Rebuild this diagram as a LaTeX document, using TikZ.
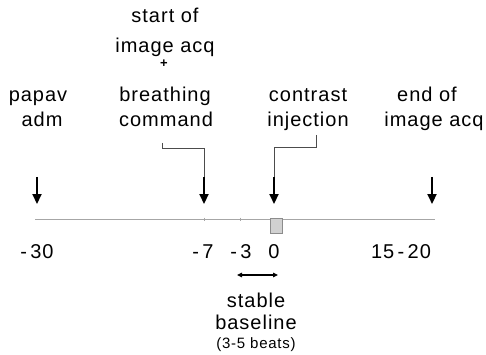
\documentclass[tikz,border=0pt]{standalone}
\usepackage{fontspec}
\setmainfont[LetterSpace=5]{Liberation Sans}
\usetikzlibrary{arrows.meta}
\begin{document}
\begin{tikzpicture}[x=1pt,y=-1pt,
  lbl/.style={anchor=base,inner sep=0pt,font=\fontsize{20}{24}\selectfont},
  small/.style={anchor=base,inner sep=0pt,font=\fontsize{15}{18}\selectfont},
  event/.style={line width=2.2pt,-{Triangle[length=10pt,width=9pt]}},
  leader/.style={draw=black!70,line width=0.5pt},
  axis/.style={draw=black!35,line width=0.7pt}]
\useasboundingbox (0,0) rectangle (486,355);

% event labels
\node[lbl] (s1) at (165,23) {start of};
\node[lbl] (s2) at (165,53) {image acq};
\node[anchor=base,inner sep=0pt,font=\fontsize{13}{14}\selectfont\bfseries] (plus) at (164,68) {+};
\node[lbl] (s3) at (165,102) {breathing};
\node[lbl] (s4) at (166,127) {command};
\node[lbl] (p1) at (38,102) {papav};
\node[lbl] (p2) at (42,127) {adm};
\node[lbl] (c1) at (308,102) {contrast};
\node[lbl] (c2) at (308,127) {injection};
\node[lbl] (e1) at (427,102) {end of};
\node[lbl] (e2) at (434,127) {image acq};

% arrow tops and tips
\coordinate (a1) at (37,177);  \coordinate (t1) at (37,204);
\coordinate (a2) at (204,177); \coordinate (t2) at (204,204);
\coordinate (a3) at (274,177); \coordinate (t3) at (274,204);
\coordinate (a4) at (432,177); \coordinate (t4) at (432,204);
\foreach \i in {1,...,4} \draw[event] (a\i) -- (t\i);

% leader lines from labels to arrows
\coordinate (b1) at (162,143);
\coordinate (b2) at (316,135);
\draw[leader] (b1) -- (162,148) -| (a2);
\draw[leader] (b2) -- (316,147) -| (a3);

% time axis
\coordinate (ax0) at (35,219);
\coordinate (ax1) at (435,219);
\draw[axis] (ax0) -- (ax1);
\draw[axis] (204,217.5) -- (204,220.5);
\draw[axis] (240,217.5) -- (240,220.5);
\node[draw=black!45,fill=black!18,line width=0.5pt,minimum width=12pt,minimum height=15pt,inner sep=0pt] (box) at (276,225.5) {};

% time values
\node[lbl] (n1) at (37,258) {-\,30};
\node[lbl] (n2) at (203,258) {-\,7};
\node[lbl] (n3) at (241,258) {-\,3};
\node[lbl] (n4) at (274,258) {0};
\node[lbl] (n5) at (401,258) {15\,-\,20};

% baseline window
\coordinate (d0) at (237,275);
\coordinate (d1) at (278,275);
\draw[line width=1.2pt,{Triangle[length=5pt,width=4.5pt]}-{Triangle[length=5pt,width=4.5pt]}] (d0) -- (d1);
\node[lbl] (w1) at (256,307) {stable};
\node[lbl] (w2) at (256,329) {baseline};
\node[small] (w3) at (256,348) {(3-5 beats)};
\end{tikzpicture}
\end{document}
